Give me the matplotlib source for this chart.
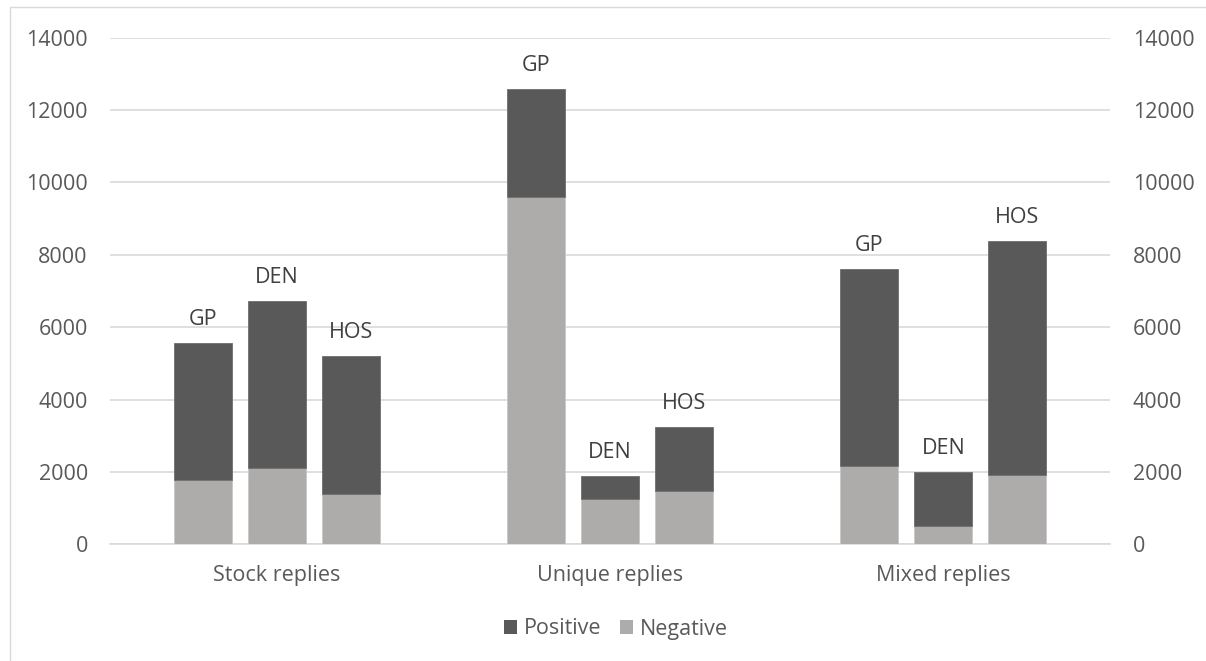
import matplotlib
matplotlib.use("Agg")
import matplotlib.pyplot as plt
from matplotlib.patches import Rectangle, Patch
import numpy as np

plt.rcParams['font.family'] = ['Open Sans', 'DejaVu Sans']

categories = ["Stock replies", "Unique replies", "Mixed replies"]
groups = ["GP", "DEN", "HOS"]
# rows: categories, cols: groups
negative = [[1785, 2120, 1390],
            [9590, 1250, 1475],
            [2175, 500, 1915]]
positive_total = [[5560, 6710, 5215],
                  [12570, 1900, 3235],
                  [7600, 2005, 8395]]
yticks = [0, 2000, 4000, 6000, 8000, 10000, 12000, 14000]

neg = np.array(negative, dtype=float)
tot = np.array(positive_total, dtype=float)
pos = tot - neg

c_pos = "#595959"
c_neg = "#AEABAB"
tcol = "#595959"
gcol = "#D9D9D9"
fs = 15.5

W, H = 1206, 661
fig = plt.figure(figsize=(W / 100, H / 100), dpi=100)
ax = fig.add_axes([110 / W, 1 - 544.3 / H, 1000 / W, (544.3 - 37.7) / H])

offsets = [-0.222, 0.0, 0.222]
width = 0.174
for i in range(len(categories)):
    for j in range(len(groups)):
        x = i + offsets[j]
        ax.bar(x, neg[i, j], width=width, color=c_neg, edgecolor="#C8C6C6", linewidth=0.6, zorder=3)
        ax.bar(x, pos[i, j], width=width, bottom=neg[i, j], color=c_pos, edgecolor="#6E6E6E", linewidth=0.6, zorder=3)
        ax.annotate(groups[j], (x, tot[i, j]), xytext=(0, 13), textcoords="offset pixels",
                    ha="center", va="bottom", fontsize=fs, color="#404040")

ax.set_xlim(-0.5, 2.5)
ax.set_ylim(0, 14000)
ax.set_yticks(yticks)
ax.set_yticklabels([str(v) for v in yticks])
ax.set_xticks(range(len(categories)))
ax.set_xticklabels(categories)
ax.yaxis.grid(True, color=gcol, linewidth=1.2, zorder=0)
ax.set_axisbelow(True)
for s in ["top", "left", "right"]:
    ax.spines[s].set_visible(False)
ax.spines["bottom"].set_color(gcol)
ax.spines["bottom"].set_linewidth(1.2)
ax.tick_params(axis="both", length=0, labelsize=fs, labelcolor=tcol)
ax.tick_params(axis="y", pad=16)
ax.tick_params(axis="x", pad=15)

ax2 = ax.twinx()
ax2.set_ylim(0, 14000)
ax2.set_yticks(yticks)
ax2.set_yticklabels([str(v) for v in yticks])
for s in ["top", "left", "right", "bottom"]:
    ax2.spines[s].set_visible(False)
ax2.tick_params(axis="y", length=0, labelsize=fs, labelcolor=tcol, pad=16.5)

handles = [Patch(facecolor=c_pos, label="Positive"), Patch(facecolor=c_neg, label="Negative")]
fig.legend(handles=handles, loc="center", bbox_to_anchor=(616 / W, 1 - 629 / H), ncol=2,
           frameon=False, fontsize=fs, labelcolor=tcol, handlelength=0.6, handleheight=0.6,
           handletextpad=0.3, columnspacing=0.9)

fig.patches.append(Rectangle((10 / W, -0.1), 1.2, 1 - 7 / H + 0.1, transform=fig.transFigure,
                             fill=False, edgecolor="#D9D9D9", linewidth=1.0))

fig.savefig("out.png", dpi=100)
